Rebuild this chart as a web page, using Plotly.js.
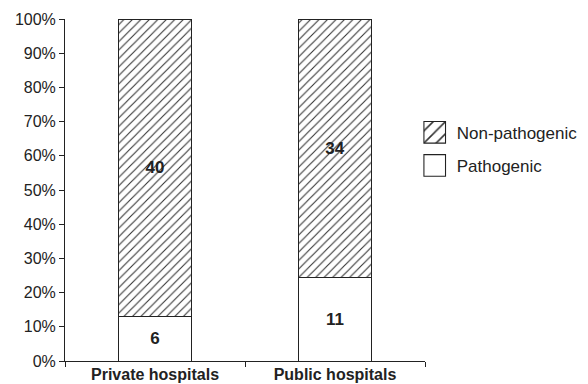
<!DOCTYPE html>
<html>
<head>
<meta charset="utf-8">
<script src="https://cdn.plot.ly/plotly-3.0.1.min.js"></script>
<style>
html,body{margin:0;padding:0;background:#fff;}
#chart{width:588px;height:384px;}
</style>
</head>
<body>
<div id="chart"></div>
<script>
const categories = ["Private hospitals", "Public hospitals"];
const pathogenic = [6, 11];
const nonPathogenic = [40, 34];
const yTickVals = [0, 10, 20, 30, 40, 50, 60, 70, 80, 90, 100];
const yTickText = ["0%", "10%", "20%", "30%", "40%", "50%", "60%", "70%", "80%", "90%", "100%"];

const FONT = "Liberation Sans, Arial, sans-serif";
const INK = "#222";

const traces = [
  {
    type: "bar",
    name: "Pathogenic",
    x: categories,
    y: pathogenic,
    text: pathogenic.map(String),
    texttemplate: "<b>%{text}</b>",
    textposition: "inside",
    insidetextanchor: "middle",
    textangle: 0,
    textfont: {family: FONT, size: 17, color: INK},
    marker: {color: "#ffffff", line: {color: INK, width: 1}},
    width: 0.405,
    legendgroup: "p",
    legendrank: 2,
    hoverinfo: "none"
  },
  {
    type: "bar",
    name: "Non-pathogenic",
    x: categories,
    y: nonPathogenic,
    text: nonPathogenic.map(String),
    texttemplate: "<b>%{text}</b>",
    textposition: "inside",
    insidetextanchor: "middle",
    textangle: 0,
    textfont: {family: FONT, size: 17, color: INK},
    marker: {
      color: "#ffffff",
      line: {color: INK, width: 1},
      pattern: {shape: "/", fgcolor: "#333", bgcolor: "#ffffff", size: 6, solidity: 0.18}
    },
    width: 0.405,
    legendgroup: "n",
    legendrank: 1,
    hoverinfo: "none"
  }
];

const layout = {
  width: 588,
  height: 384,
  margin: {l: 65, r: 163, t: 19, b: 23, pad: 0, autoexpand: false},
  paper_bgcolor: "#ffffff",
  plot_bgcolor: "#ffffff",
  barmode: "stack",
  barnorm: "percent",
  font: {family: FONT, size: 16, color: INK},
  showlegend: true,
  legend: {
    x: 0.977, xanchor: "left",
    y: 0.72, yanchor: "top",
    traceorder: "grouped",
    tracegroupgap: 8,
    font: {family: FONT, size: 17, color: INK},
    bgcolor: "rgba(0,0,0,0)"
  },
  xaxis: {
    type: "category",
    tickson: "boundaries",
    ticks: "outside",
    ticklen: 5,
    tickcolor: INK,
    showline: true,
    linecolor: INK,
    linewidth: 1,
    showgrid: false,
    zeroline: false,
    ticklabelstandoff: -1,
    tickfont: {family: FONT, size: 16, color: INK, weight: "bold"},
    range: [-0.5, 1.5],
    fixedrange: true
  },
  yaxis: {
    range: [0, 100],
    tickvals: yTickVals,
    ticktext: yTickText,
    ticks: "outside",
    ticklen: 5,
    tickcolor: INK,
    showline: true,
    linecolor: INK,
    linewidth: 1,
    showgrid: false,
    zeroline: false,
    tickfont: {family: FONT, size: 16, color: INK},
    fixedrange: true
  }
};

Plotly.newPlot("chart", traces, layout, {staticPlot: true, displayModeBar: false}).then(function(gd){
  gd.querySelectorAll(".legend [clip-path]").forEach(function(el){ el.removeAttribute("clip-path"); });
  gd.querySelectorAll(".legend .legendpoints path").forEach(function(p){
    p.setAttribute("transform", "translate(18,0) scale(1.8)");
    p.style.strokeWidth = "0.6px";
  });
});
</script>
</body>
</html>
